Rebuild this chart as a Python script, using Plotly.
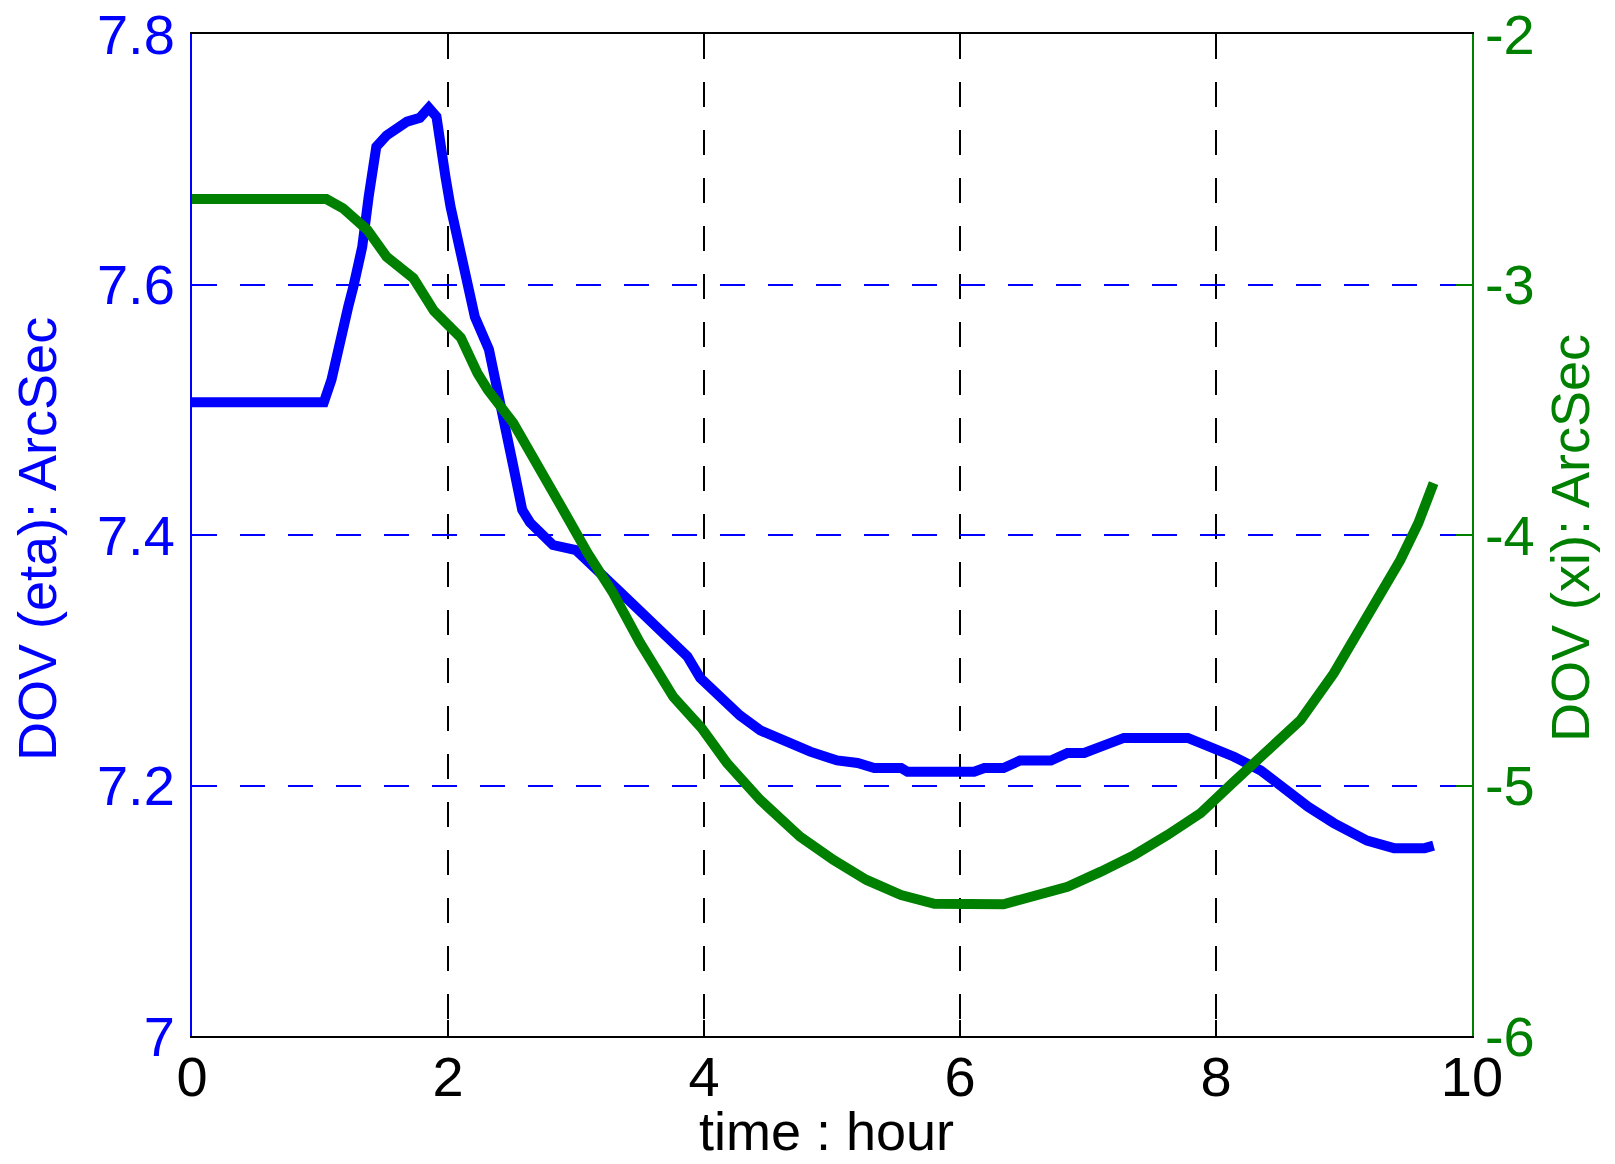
import plotly.graph_objects as go

# DOV eta (left axis, blue)
eta_hour = [0.0, 1.03, 1.09, 1.13, 1.18, 1.22, 1.26, 1.33, 1.38, 1.42, 1.44, 1.52, 1.60, 1.68, 1.78,
            1.85, 1.91, 1.94, 1.98, 2.02, 2.07, 2.14, 2.21, 2.32, 2.38, 2.45, 2.51, 2.58, 2.64, 2.82,
            3.00, 3.35, 3.87, 3.97, 4.13, 4.28, 4.44, 4.62, 4.83, 5.04, 5.20, 5.33, 5.54, 5.59, 6.11,
            6.19, 6.34, 6.47, 6.71, 6.84, 6.97, 7.10, 7.28, 7.78, 7.93, 8.14, 8.35, 8.51, 8.72, 8.92,
            9.18, 9.39, 9.63, 9.70]
eta_val = [7.506, 7.506, 7.524, 7.545, 7.566, 7.582, 7.598, 7.630, 7.670, 7.694, 7.710, 7.719, 7.725, 7.730, 7.733,
           7.741, 7.734, 7.710, 7.686, 7.662, 7.638, 7.601, 7.574, 7.548, 7.516, 7.484, 7.455, 7.420, 7.410, 7.392,
           7.388, 7.354, 7.303, 7.286, 7.270, 7.256, 7.244, 7.236, 7.227, 7.220, 7.218, 7.214, 7.214, 7.211, 7.211,
           7.214, 7.214, 7.220, 7.220, 7.226, 7.226, 7.231, 7.238, 7.238, 7.232, 7.223, 7.212, 7.199, 7.183, 7.170,
           7.156, 7.150, 7.150, 7.152]

# DOV xi (right axis, green)
xi_hour = [0.0, 1.05, 1.18, 1.37, 1.52, 1.73, 1.89, 2.10, 2.23, 2.31, 2.51, 2.70, 2.90, 3.09, 3.29,
           3.50, 3.76, 3.98, 4.18, 4.44, 4.75, 5.01, 5.27, 5.54, 5.80, 6.34, 6.58, 6.84, 7.10, 7.36,
           7.62, 7.88, 8.14, 8.40, 8.66, 8.92, 9.18, 9.44, 9.58, 9.70]
xi_val = [-2.659, -2.659, -2.696, -2.782, -2.889, -2.975, -3.105, -3.212, -3.354, -3.420, -3.553, -3.713, -3.900, -4.072, -4.232,
          -4.430, -4.646, -4.770, -4.911, -5.058, -5.204, -5.297, -5.377, -5.437, -5.472, -5.474, -5.441, -5.404, -5.344, -5.278,
          -5.198, -5.110, -4.985, -4.865, -4.739, -4.552, -4.326, -4.100, -3.953, -3.793]

x_ticks = [0, 2, 4, 6, 8, 10]
eta_ticks = [7.0, 7.2, 7.4, 7.6, 7.8]
eta_labels = ["7", "7.2", "7.4", "7.6", "7.8"]
xi_ticks = [-6, -5, -4, -3, -2]

FONT = "Liberation Sans, Arial, sans-serif"
BLUE = "#0000ff"
GREEN = "#008000"
DASH = "25px,23px"

fig = go.Figure()
fig.add_trace(go.Scatter(x=eta_hour, y=eta_val, mode="lines",
                         line=dict(color=BLUE, width=10), showlegend=False))
fig.add_trace(go.Scatter(x=xi_hour, y=xi_val, mode="lines", yaxis="y2",
                         line=dict(color=GREEN, width=10), showlegend=False))

# the page body has an 8px margin, so the figure is 16px smaller than the window
fig.update_layout(
    width=1599, height=1148,
    margin=dict(l=184, r=135, t=26, b=120),
    paper_bgcolor="white", plot_bgcolor="white",
    font=dict(family=FONT, size=56, color="black"),
    xaxis=dict(
        range=[0, 10], tickvals=x_ticks, ticktext=[str(v) for v in x_ticks],
        showline=True, linecolor="black", linewidth=2, mirror="ticks",
        ticks="inside", ticklen=16, tickwidth=2, tickcolor="black",
        showgrid=True, gridcolor="black", gridwidth=2, griddash=DASH,
        zeroline=False, automargin=False, ticklabeloverflow="allow",
        tickfont=dict(size=56), ticklabelstandoff=-9,
    ),
    yaxis=dict(
        range=[7.0, 7.8], tickvals=eta_ticks, ticktext=eta_labels,
        showline=True, linecolor=BLUE, linewidth=2,
        ticks="inside", ticklen=16, tickwidth=2, tickcolor=BLUE,
        showgrid=True, gridcolor=BLUE, gridwidth=2, griddash=DASH,
        zeroline=False, automargin=False, ticklabeloverflow="allow",
        tickfont=dict(size=56, color=BLUE), ticklabelstandoff=4,
    ),
    yaxis2=dict(
        range=[-6, -2], tickvals=xi_ticks, ticktext=[str(v) for v in xi_ticks],
        overlaying="y", side="right",
        showline=True, linecolor=GREEN, linewidth=1.5,
        ticks="inside", ticklen=16, tickwidth=2, tickcolor=GREEN,
        showgrid=False, zeroline=False, automargin=False, ticklabeloverflow="allow",
        tickfont=dict(size=56, color=GREEN), ticklabelstandoff=0,
    ),
)

# axis titles
fig.add_annotation(text="time : hour", xref="paper", yref="paper", x=0.5, y=0,
                   xanchor="center", yanchor="middle", xshift=-6, yshift=-95,
                   showarrow=False, font=dict(size=54, color="black"))
fig.add_annotation(text="DOV (eta): ArcSec", xref="paper", yref="paper", x=0, y=0.5,
                   xanchor="center", yanchor="middle", xshift=-155, yshift=-4, textangle=-90,
                   showarrow=False, font=dict(size=54, color=BLUE))
fig.add_annotation(text="DOV (xi): ArcSec", xref="paper", yref="paper", x=1, y=0.5,
                   xanchor="center", yanchor="middle", xshift=98, yshift=-3, textangle=-90,
                   showarrow=False, font=dict(size=54, color=GREEN))

fig.write_html("out.html")
